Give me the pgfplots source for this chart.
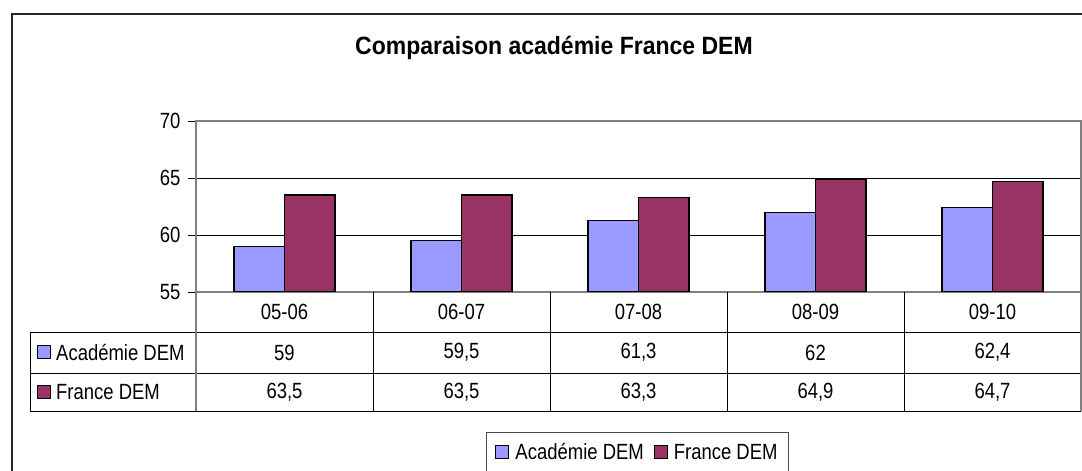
\documentclass[border=0pt]{standalone}
\usepackage{fontspec}
\setmainfont{Liberation Sans}[FakeStretch=0.84]
\newfontfamily\titlefont{Liberation Sans}[FakeStretch=0.92]
\usepackage{pgfplots}
\usepackage{pgfplotstable}
\pgfplotsset{compat=1.18}
\definecolor{acad}{HTML}{9999FF}
\definecolor{fran}{HTML}{993366}
\definecolor{axgray}{HTML}{808080}

\pgfplotstableread{
cat   acad  france
05-06 59    63.5
06-07 59.5  63.5
07-08 61.3  63.3
08-09 62    64.9
09-10 62.4  64.7
}\data

\newcommand{\tfont}{\fontsize{22}{26}\selectfont}

\begin{document}
\begin{tikzpicture}[x=1pt,y=1pt]
\useasboundingbox (0,0) rectangle (1082,471);
\clip (0,0) rectangle (1082,471);
% outer frame
\draw[line width=1.6pt, black!85] (12,-10) -- (12,457) -- (1100,457);
\node[anchor=base, font={\titlefont\fontsize{25}{30}\selectfont\bfseries}] at (554,416) {Comparaison académie France DEM};

\begin{axis}[
  at={(196pt,179pt)}, anchor=south west,
  scale only axis, width=885pt, height=171pt,
  xmin=0.5, xmax=5.5, ymin=55, ymax=70,
  ybar=0pt, bar width=50.5pt,
  xtick=\empty,
  ytick={55,60,65,70},
  ymajorgrids, grid style={black, line width=0.8pt},
  axis line style={axgray, line width=1.2pt},
  tick align=outside, major tick length=8pt,
  ytick style={black, line width=0.8pt},
  yticklabel style={font=\tfont, xshift=-4pt},
  /pgf/number format/assume math mode=true,
  legend columns=2,
  legend style={at={(0.4989,-0.8187)}, anchor=north, draw=black!70, line width=0.8pt,
    font=\tfont, inner xsep=9pt, inner ysep=9pt,
    /tikz/every odd column/.append style={column sep=4pt},
    /tikz/every even column/.append style={column sep=8pt}},
  legend image code/.code={\draw[#1,line width=1pt] (0pt,-6.5pt) rectangle (13pt,6.5pt);},
]
\addplot[fill=acad, draw=black, line width=1.2pt] table[x expr=\coordindex+1, y=acad]{\data};
\addplot[fill=fran, draw=black, line width=1.2pt] table[x expr=\coordindex+1, y=france]{\data};
\legend{Académie DEM, France DEM}
\end{axis}

% data table under the axis
\draw[black, line width=0.8pt] (196,139) -- (1081,139);
\draw[black, line width=0.8pt] (30,139) -- (196,139);
\draw[black, line width=0.8pt] (30,98) -- (1081,98);
\draw[black, line width=0.8pt] (30,60) -- (1081,60);
\draw[black, line width=0.8pt] (30,139) -- (30,60);
\draw[axgray, line width=1.2pt] (196,179) -- (196,60);
\draw[axgray, line width=1.2pt] (1081,179) -- (1081,60);
\foreach \k in {1,2,3,4} {
  \draw[black, line width=0.8pt] ({196+177*\k},179) -- ({196+177*\k},60);
}
\pgfkeys{/pgf/number format/.cd, use comma, assume math mode=true}
\foreach \i in {0,...,4} {
  \pgfplotstablegetelem{\i}{cat}\of\data
  \node[font=\tfont] at ({196+177*(\i+0.5)},159) {\pgfplotsretval};
  \pgfplotstablegetelem{\i}{acad}\of\data
  \node[font=\tfont] at ({196+177*(\i+0.5)},118.5) {\pgfmathprintnumber{\pgfplotsretval}};
  \pgfplotstablegetelem{\i}{france}\of\data
  \node[font=\tfont] at ({196+177*(\i+0.5)},79) {\pgfmathprintnumber{\pgfplotsretval}};
}
\draw[fill=acad, draw=black, line width=1pt] (37,112) rectangle (50,125);
\node[font=\tfont, anchor=west, inner sep=0pt] at (56,118.5) {Académie DEM};
\draw[fill=fran, draw=black, line width=1pt] (37,72.5) rectangle (50,85.5);
\node[font=\tfont, anchor=west, inner sep=0pt] at (56,79) {France DEM};
\end{tikzpicture}
\end{document}
